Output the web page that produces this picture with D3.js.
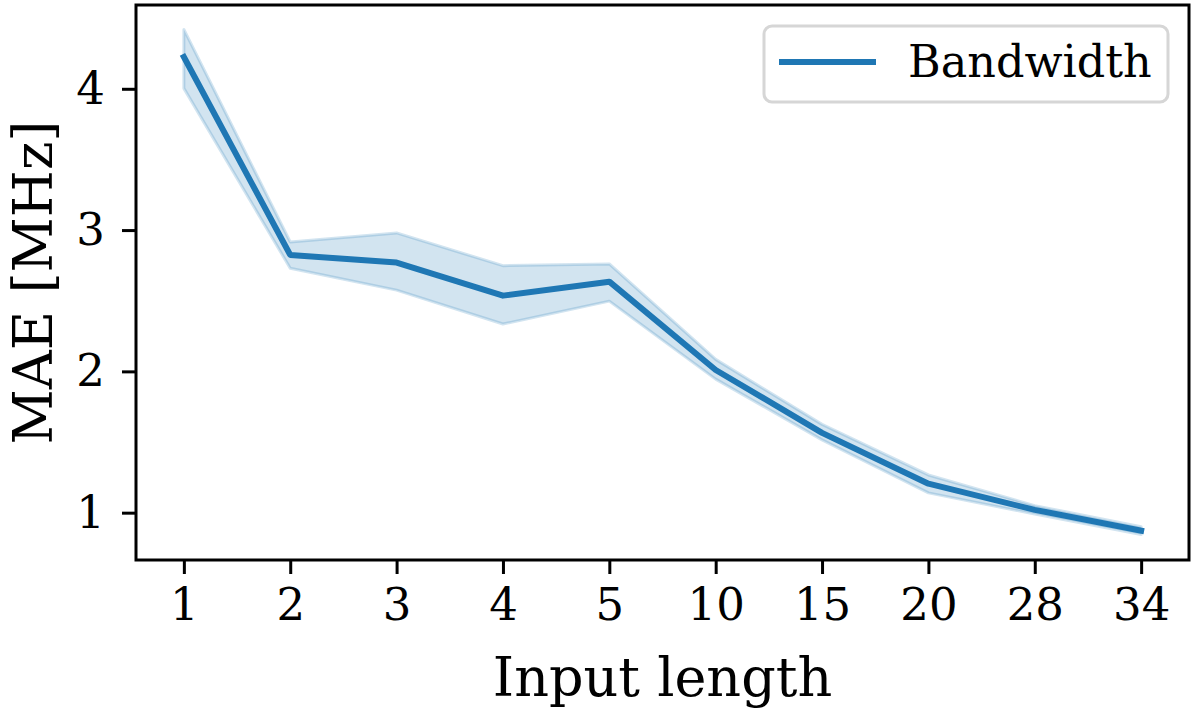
<!DOCTYPE html>
<html>
<head>
<meta charset="utf-8">
<script src="https://cdn.jsdelivr.net/npm/d3@7"></script>
<style>
  html, body { margin: 0; padding: 0; background: #fff; }
  svg { display: block; }
  text { font-family: "DejaVu Serif", serif; fill: #000; }
</style>
</head>
<body>
<svg id="chart" width="1196" height="715"></svg>
<script>
// Data
const categories = ["1", "2", "3", "4", "5", "10", "15", "20", "28", "34"];
const meanValues = [4.225, 2.824, 2.77, 2.536, 2.635, 2.01, 1.565, 1.205, 1.02, 0.873];
const upperValues = [4.42, 2.916, 2.98, 2.748, 2.76, 2.085, 1.625, 1.267, 1.05, 0.90];
const lowerValues = [4.003, 2.73, 2.575, 2.335, 2.497, 1.945, 1.515, 1.14, 0.99, 0.845];
const yTicks = [1, 2, 3, 4];
const seriesName = "Bandwidth";

(function () {
const svg = d3.select("#chart");
const mLeft = 136, mRight = 1189, mTop = 5, mBottom = 560;
const color = "#1f77b4";

const x = d3.scaleLinear().domain([-0.45, categories.length - 1 + 0.45]).range([mLeft, mRight]);
const y = d3.scaleLinear().domain([0.665, 4.593]).range([mBottom, mTop]);

const data = categories.map((c, i) => ({ c, i, m: meanValues[i], u: upperValues[i], l: lowerValues[i] }));

// band
const area = d3.area().x(d => x(d.i)).y0(d => y(d.l)).y1(d => y(d.u));
svg.append("path").datum(data).attr("d", area)
  .attr("fill", color).attr("fill-opacity", 0.2)
  .attr("stroke", color).attr("stroke-opacity", 0.2).attr("stroke-width", 3)
  .attr("stroke-linejoin", "round");

// mean line
const line = d3.line().x(d => x(d.i)).y(d => y(d.m));
svg.append("path").datum(data).attr("d", line)
  .attr("fill", "none").attr("stroke", color).attr("stroke-width", 6)
  .attr("stroke-linejoin", "round").attr("stroke-linecap", "square");

// axes
const xAxis = d3.axisBottom(x).tickValues(d3.range(categories.length))
  .tickFormat(i => categories[i]).tickSize(14).tickPadding(14);
const gx = svg.append("g").attr("transform", `translate(0,${mBottom})`).call(xAxis);
gx.select(".domain").remove();
gx.selectAll(".tick line").attr("stroke", "#000").attr("stroke-width", 3);
gx.selectAll(".tick text").attr("font-size", 45).attr("font-family", "DejaVu Serif");

const yAxis = d3.axisLeft(y).tickValues(yTicks).tickFormat(d3.format("d")).tickSize(14).tickPadding(17);
const gy = svg.append("g").attr("transform", `translate(${mLeft},0)`).call(yAxis);
gy.select(".domain").remove();
gy.selectAll(".tick line").attr("stroke", "#000").attr("stroke-width", 3);
gy.selectAll(".tick text").attr("font-size", 45).attr("font-family", "DejaVu Serif");

// frame
svg.append("rect").attr("x", mLeft).attr("y", mTop).attr("width", mRight - mLeft).attr("height", mBottom - mTop)
  .attr("fill", "none").attr("stroke", "#000").attr("stroke-width", 3);

// axis labels
svg.append("text").attr("x", (mLeft + mRight) / 2).attr("y", 696)
  .attr("text-anchor", "middle").attr("font-size", 54).text("Input length");
svg.append("text").attr("transform", `translate(52,${(mTop + mBottom) / 2}) rotate(-90)`)
  .attr("text-anchor", "middle").attr("font-size", 54).text("MAE [MHz]");

// legend
const lg = svg.append("g");
lg.append("rect").attr("x", 764).attr("y", 26).attr("width", 404).attr("height", 76)
  .attr("rx", 8).attr("fill", "#fff").attr("fill-opacity", 0.8)
  .attr("stroke", "#d6d6d6").attr("stroke-width", 3);
lg.append("line").attr("x1", 779).attr("x2", 876).attr("y1", 62).attr("y2", 62)
  .attr("stroke", color).attr("stroke-width", 6);
lg.append("text").attr("x", 908).attr("y", 77).attr("font-size", 44.5).text(seriesName);
})();
</script>
</body>
</html>
